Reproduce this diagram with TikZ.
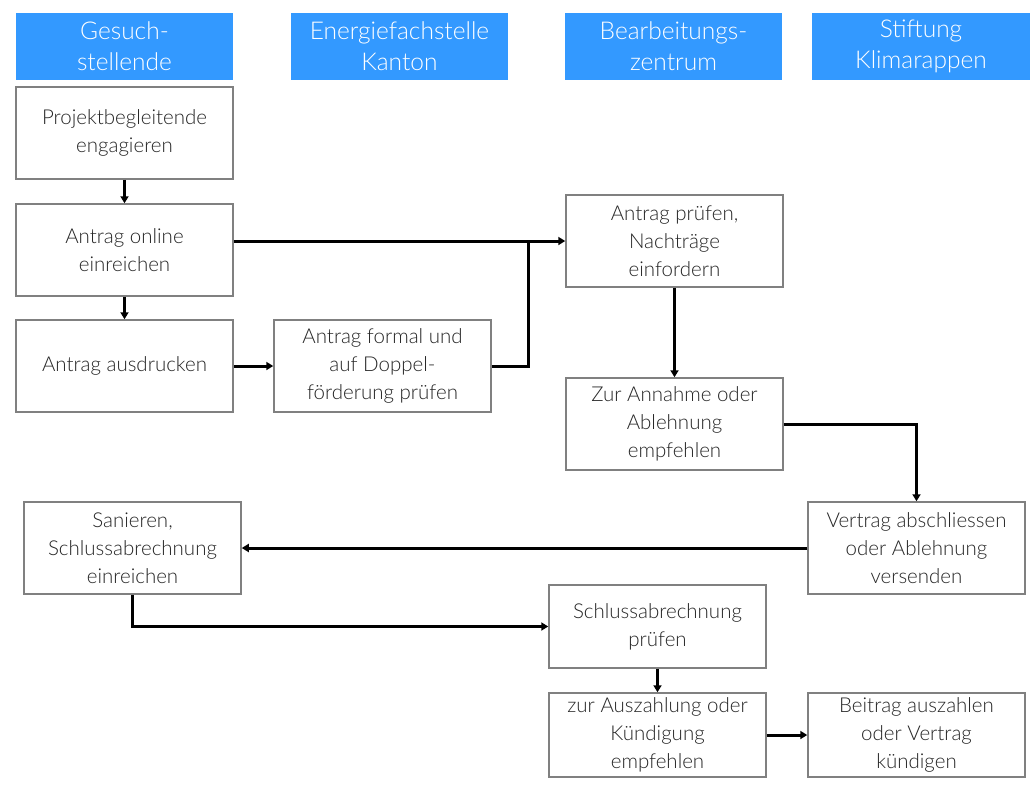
\documentclass[tikz,border=0pt]{standalone}
\usepackage{fontspec}
\setmainfont{Lato}[UprightFont=* Light]
\usetikzlibrary{arrows.meta}
\definecolor{hdr}{HTML}{3399FF}
\definecolor{bord}{HTML}{808080}
\tikzset{
  hbox/.style={fill=hdr, draw=none, minimum width=217pt, minimum height=67pt, inner sep=0pt, align=center, text=white, font=\fontsize{24.5}{31}\selectfont},
  pbox/.style={fill=white, draw=bord, line width=1.5pt, minimum width=217pt, minimum height=92pt, inner sep=0pt, align=center, text=black!85, font=\fontsize{20.5}{28}\selectfont},
  conn/.style={line width=3pt, draw=black},
  arr/.style={conn, -{Triangle[length=7pt, width=8pt]}},
}
\begin{document}
\begin{tikzpicture}[x=1pt, y=-1pt]
\useasboundingbox (0,0) rectangle (1030,787);
% headers
\node[hbox] (h1) at (124.5,46.5) {Gesuch-\\stellende};
\node[hbox] (h2) at (399.5,46.5) {Energiefachstelle\\Kanton};
\node[hbox] (h3) at (673.5,46.5) {Bearbeitungs-\\zentrum};
\node[hbox, minimum width=218pt] (h4) at (921,46.5) {Stiftung\\Klimarappen};
% process boxes
\node[pbox] (b1) at (124.5,133) {Projektbegleitende\\engagieren};
\node[pbox] (b2) at (124.5,250) {Antrag online\\einreichen};
\node[pbox] (b3) at (124.5,366) {Antrag ausdrucken};
\node[pbox] (b4) at (382.5,366) {Antrag formal und\\auf Doppel-\\förderung prüfen};
\node[pbox] (b5) at (674.5,241) {Antrag prüfen,\\Nachträge\\einfordern};
\node[pbox] (b6) at (674.5,424) {Zur Annahme oder\\Ablehnung\\empfehlen};
\node[pbox] (b7) at (916.5,548) {Vertrag abschliessen\\oder Ablehnung\\versenden};
\node[pbox] (b8) at (132.5,548) {Sanieren,\\Schlussabrechnung\\einreichen};
\node[pbox, minimum height=83pt] (b9) at (657.5,626.5) {Schlussabrechnung\\prüfen};
\node[pbox, minimum height=84pt] (b10) at (657.5,735) {zur Auszahlung oder\\Kündigung\\empfehlen};
\node[pbox, minimum height=84pt] (b11) at (916.5,735) {Beitrag auszahlen\\oder Vertrag\\kündigen};
% connectors
\coordinate (j) at (528,241);
\draw[arr] (b1.south) -- (b2.north);
\draw[arr] (b2.south) -- (b3.north);
\draw[arr] (b2.east |- j) -- (b5.west |- j);
\draw[arr] (b3.east) -- (b4.west);
\draw[conn] (b4.east) -| (j);
\draw[arr] (b5.south) -- (b6.north);
\draw[arr] (b6.east) -| (b7.north);
\draw[arr] (b7.west) -- (b8.east);
\draw[arr] (b8.south) |- (b9.west);
\draw[arr] (b9.south) -- (b10.north);
\draw[arr] (b10.east) -- (b11.west);
\end{tikzpicture}
\end{document}
